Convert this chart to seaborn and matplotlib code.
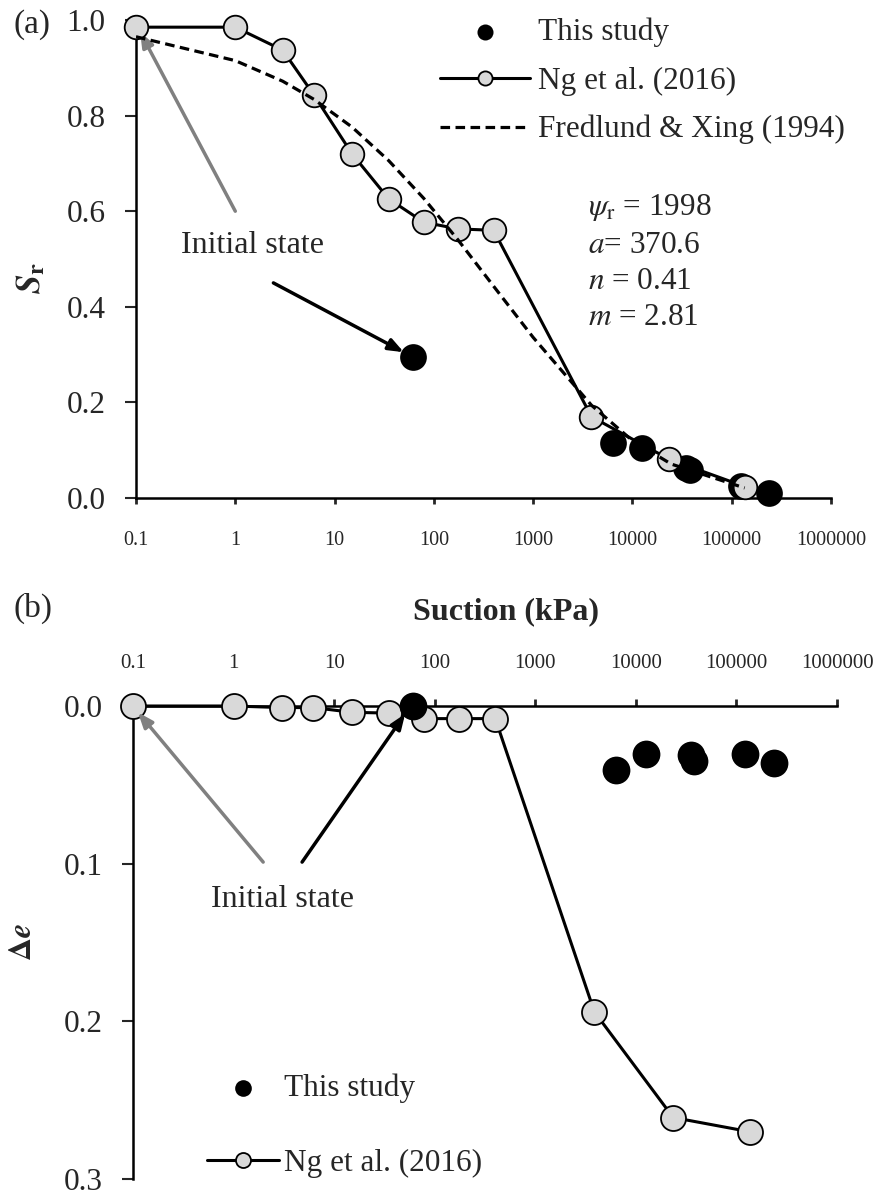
import matplotlib
matplotlib.use('Agg')
import matplotlib.pyplot as plt
import matplotlib.ticker as mticker
import seaborn as sns

# valores
ng_suction = [0.1, 1, 3, 6.2, 15, 35, 79, 175, 400, 3870, 23500, 135000]
ng_sr = [0.985, 0.985, 0.937, 0.843, 0.72, 0.626, 0.577, 0.563, 0.56, 0.17, 0.081, 0.024]
ng_de = [0.0, 0.0, 0.001, 0.001, 0.004, 0.0045, 0.008, 0.008, 0.008, 0.194, 0.261, 0.270]

study_suction = [61, 6400, 12500, 35000, 38000, 123000, 235000]
study_sr = [0.295, 0.115, 0.104, 0.062, 0.058, 0.025, 0.011]
study_de = [0.0, 0.0406, 0.0305, 0.031, 0.035, 0.0305, 0.036]

fx_suction = [0.1, 1, 3, 6.2, 15, 35, 79, 175, 400, 1000, 3870, 10000, 24600, 135000]
fx_sr = [0.965, 0.915, 0.872, 0.834, 0.776, 0.706, 0.627, 0.54, 0.443, 0.336, 0.194, 0.12, 0.071, 0.021]

fit_params = [r'$\psi_{\mathrm{r}}$ = 1998', r'$a$= 370.6', r'$n$ = 0.41', r'$m$ = 2.81']

xticks = [0.1, 1, 10, 100, 1000, 10000, 100000, 1000000]
xtick_labels = ['0.1', '1', '10', '100', '1000', '10000', '100000', '1000000']

sns.set_style('ticks')
plt.rcParams['font.family'] = ['Liberation Serif', 'DejaVu Serif']
plt.rcParams['mathtext.fontset'] = 'stix'

GRAY = '#d9d9d9'
W, H = 876, 1199

fig = plt.figure(figsize=(W / 100, H / 100), dpi=100)
ax1 = fig.add_axes([136 / W, 1 - 498 / H, (831 - 136) / W, (498 - 20) / H])
ax2 = fig.add_axes([133 / W, 1 - 1179 / H, (837 - 133) / W, (1179 - 706) / H])

# %% (a) grau de saturacao
sns.scatterplot(x=study_suction, y=study_sr, ax=ax1, color='black', s=370,
                edgecolor='black', linewidth=0, zorder=3, clip_on=False,
                label='This study')
sns.lineplot(x=ng_suction, y=ng_sr, ax=ax1, color='black', lw=2.2, marker='o',
             markersize=17, markerfacecolor=GRAY, markeredgecolor='black',
             markeredgewidth=1.3, zorder=4, clip_on=False, sort=False,
             estimator=None, label='Ng et al. (2016)')
sns.lineplot(x=fx_suction, y=fx_sr, ax=ax1, color='black', lw=2.3,
             linestyle=(0, (3, 1.7)), zorder=5, sort=False, estimator=None,
             label='Fredlund & Xing (1994)')

ax1.set_xscale('log')
ax1.set_xlim(0.1, 1e6)
ax1.set_ylim(0, 1.0)
ax1.set_xticks(xticks, xtick_labels)
ax1.xaxis.set_minor_locator(mticker.NullLocator())
ax1.set_yticks([0, 0.2, 0.4, 0.6, 0.8, 1.0])
ax1.yaxis.set_major_formatter(mticker.FormatStrFormatter('%.1f'))
ax1.tick_params(axis='y', length=8, width=1.5, pad=14, labelsize=22.5)
ax1.tick_params(axis='x', length=4, width=2, pad=20, labelsize=14.5)
for s in ['top', 'right']:
    ax1.spines[s].set_visible(False)
for s in ['left', 'bottom']:
    ax1.spines[s].set_color('black')
    ax1.spines[s].set_linewidth(1.8)
ax1.set_xlabel('')
ax1.set_ylabel(r'$\mathbfit{S}_{\mathbf{r}}$', fontsize=25)
ax1.yaxis.set_label_coords(-0.126, 0.46)

ax1.legend(loc='upper left', bbox_to_anchor=(0.437, 1.005), frameon=False,
           fontsize=22.5, handlelength=2.9, handletextpad=0.23,
           labelspacing=0.62, markerscale=0.6, borderpad=0, borderaxespad=0)

for txt, yy in zip(fit_params, [0.607, 0.529, 0.452, 0.377]):
    ax1.text(0.650, yy, txt, transform=ax1.transAxes, fontsize=22.5,
             ha='left', va='center')

ax1.text(1.48, 0.529, 'Initial state', fontsize=23, ha='center', va='center')
ax1.annotate('', xy=(0.11, 0.975), xytext=(1.0, 0.60),
             arrowprops=dict(arrowstyle='-|>,head_length=0.9,head_width=0.35',
                             color='#808080', lw=2.5, shrinkA=0, shrinkB=0))
ax1.annotate('', xy=(49.8, 0.305), xytext=(2.42, 0.45),
             arrowprops=dict(arrowstyle='-|>,head_length=0.9,head_width=0.35',
                             color='black', lw=2.5, shrinkA=0, shrinkB=0))

# %% (b) variacao do indice de vazios
sns.lineplot(x=ng_suction, y=ng_de, ax=ax2, color='black', lw=2.2, marker='o',
             markersize=18, markerfacecolor=GRAY, markeredgecolor='black',
             markeredgewidth=1.3, zorder=3, clip_on=False, sort=False,
             estimator=None, label='Ng et al. (2016)')
sns.scatterplot(x=study_suction, y=study_de, ax=ax2, color='black', s=400,
                edgecolor='black', linewidth=0, zorder=4, clip_on=False,
                label='This study')

ax2.set_xscale('log')
ax2.set_xlim(0.1, 1e6)
ax2.set_ylim(0.3, 0.0)
ax2.xaxis.tick_top()
ax2.set_xticks(xticks, xtick_labels)
ax2.xaxis.set_minor_locator(mticker.NullLocator())
ax2.set_yticks([0, 0.1, 0.2, 0.3])
ax2.yaxis.set_major_formatter(mticker.FormatStrFormatter('%.1f'))
ax2.tick_params(axis='y', length=8, width=1.5, pad=14, labelsize=22.5)
ax2.tick_params(axis='x', length=5, width=2, pad=19, labelsize=15)
for s in ['bottom', 'right']:
    ax2.spines[s].set_visible(False)
for s in ['left', 'top']:
    ax2.spines[s].set_color('black')
    ax2.spines[s].set_linewidth(1.8)
ax2.set_xlabel('')
ax2.set_ylabel(r'$\mathbf{\Delta}\mathbfit{e}$', fontsize=23)
ax2.yaxis.set_label_coords(-0.135, 0.501)

h, l = ax2.get_legend_handles_labels()
ax2.legend(h[::-1], l[::-1], loc='upper left', bbox_to_anchor=(0.105, 0.222),
           frameon=False, fontsize=22.5, handlelength=2.3, handletextpad=0.16,
           labelspacing=1.45, markerscale=0.6, borderpad=0, borderaxespad=0)

ax2.text(3.04, 0.123, 'Initial state', fontsize=23, ha='center', va='center')
ax2.annotate('', xy=(0.112, 0.004), xytext=(1.97, 0.099),
             arrowprops=dict(arrowstyle='-|>,head_length=0.9,head_width=0.35',
                             color='#808080', lw=2.5, shrinkA=0, shrinkB=0))
ax2.annotate('', xy=(50.8, 0.005), xytext=(4.8, 0.099),
             arrowprops=dict(arrowstyle='-|>,head_length=0.9,head_width=0.35',
                             color='black', lw=2.5, shrinkA=0, shrinkB=0))

fig.text(506 / W, 1 - 612 / H, 'Suction (kPa)', fontsize=23, fontweight='bold',
         ha='center', va='center')
fig.text(32 / W, 1 - 25 / H, '(a)', fontsize=24, ha='center', va='center')
fig.text(33 / W, 1 - 608 / H, '(b)', fontsize=24, ha='center', va='center')

fig.savefig('out.png', dpi=100)
